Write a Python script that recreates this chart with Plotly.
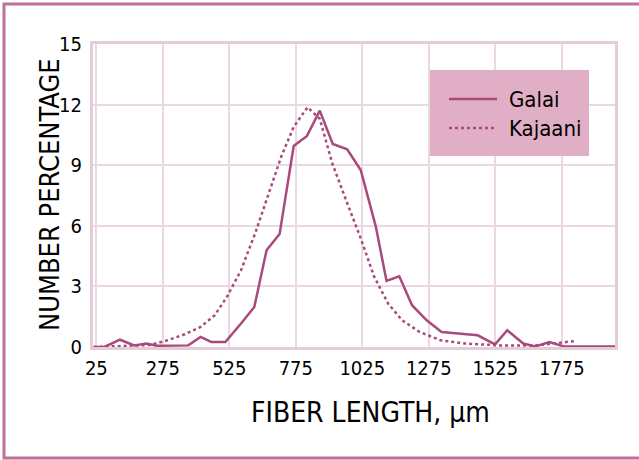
import plotly.graph_objects as go

# ---- data ----
galai_x = [15, 55, 114, 167, 213, 253, 371, 417, 457, 510, 569, 619, 665, 714, 767, 817, 865,
           914, 968, 1019, 1076, 1116, 1164, 1212, 1267, 1323, 1459, 1524, 1570, 1630, 1676,
           1729, 1782, 1975]
galai_y = [0.0, 0.0, 0.36, 0.08, 0.17, 0.06, 0.08, 0.5, 0.25, 0.25, 1.16, 1.98, 4.79, 5.59,
           9.95, 10.45, 11.7, 10.05, 9.79, 8.76, 5.95, 3.27, 3.5, 2.07, 1.32, 0.74, 0.58, 0.13,
           0.83, 0.17, 0.03, 0.25, 0.03, 0.03]

kajaani_x = [15, 94, 160, 226, 292, 358, 417, 470, 516, 569, 622, 674, 720, 767, 819, 865,
             912, 964, 1017, 1070, 1122, 1175, 1241, 1320, 1412, 1544, 1676, 1742, 1827]
kajaani_y = [0.0, 0.03, 0.04, 0.1, 0.33, 0.63, 0.99, 1.57, 2.48, 3.8, 5.62, 7.6, 9.42, 10.9,
             11.87, 11.3, 9.09, 7.27, 5.45, 3.47, 2.15, 1.32, 0.74, 0.33, 0.17, 0.08, 0.08,
             0.17, 0.3]

series_names = ["Galai", "Kajaani"]
x_ticks = [25, 275, 525, 775, 1025, 1275, 1525, 1775]
y_ticks = [0, 3, 6, 9, 12, 15]

LINE = "#a84a7c"
GRID = "#ead8e2"
FONT = "DejaVu Sans Condensed, Liberation Sans Narrow, DejaVu Sans, sans-serif"

fig = go.Figure()
fig.add_trace(go.Scatter(x=galai_x, y=galai_y, mode="lines", name=series_names[0],
                         line=dict(color=LINE, width=2.5), showlegend=False))
fig.add_trace(go.Scatter(x=kajaani_x, y=kajaani_y, mode="lines", name=series_names[1],
                         line=dict(color=LINE, width=2.5, dash="dot"), showlegend=False))

fig.update_layout(
    width=639, height=460,
    margin=dict(l=93, r=24, t=44, b=113),
    paper_bgcolor="white", plot_bgcolor="white",
    font=dict(family=FONT, color="black"),
    xaxis=dict(range=[12.5, 1975], tickvals=x_ticks, ticktext=[str(v) for v in x_ticks],
               showgrid=True, gridcolor=GRID, gridwidth=1.5, zeroline=False,
               showline=True, linecolor="#e3cdd9", linewidth=3, mirror=True,
               ticks="", tickfont=dict(size=20, family=FONT), ticklabelstandoff=1),
    yaxis=dict(range=[0, 15], tickvals=y_ticks, showgrid=True, gridcolor=GRID, gridwidth=1.5,
               zeroline=False, showline=True, linecolor="#e3cdd9", linewidth=3, mirror=True,
               ticks="", tickfont=dict(size=20, family=FONT), ticklabelstandoff=4),
)

# axis titles
fig.add_annotation(text="FIBER LENGTH, \u00b5m", xref="paper", yref="paper",
                   x=(370 - 93) / 522, y=(347 - 412) / 303, showarrow=False,
                   xanchor="center", yanchor="middle",
                   font=dict(size=28, family=FONT, color="black"))
fig.add_annotation(text="NUMBER PERCENTAGE", xref="paper", yref="paper",
                   x=(49 - 93) / 522, y=(347 - 195) / 303, showarrow=False, textangle=-90,
                   xanchor="center", yanchor="middle",
                   font=dict(size=27, family=FONT, color="black"))

# legend (drawn manually)
def px(xp):
    return (xp - 93) / 522

def py(yp):
    return (347 - yp) / 303

fig.add_shape(type="rect", xref="paper", yref="paper", x0=px(430), x1=px(589),
              y0=py(156), y1=py(70), fillcolor="#e0afc5", line=dict(width=0), layer="above")
for i, (name, dash) in enumerate(zip(series_names, ["solid", "dot"])):
    yy = 99 + 29 * i
    fig.add_shape(type="line", xref="paper", yref="paper", x0=px(449), x1=px(497),
                  y0=py(yy), y1=py(yy), line=dict(color=LINE, width=2.5, dash=dash),
                  layer="above")
    fig.add_annotation(text=name, xref="paper", yref="paper", x=px(507), y=py(yy),
                       xanchor="left", yanchor="middle", showarrow=False,
                       font=dict(size=22, family=FONT, color="black"))

# outer frame
fig.add_shape(type="rect", xref="paper", yref="paper", x0=px(4), x1=px(660),
              y0=py(458), y1=py(4), line=dict(color="#c0709a", width=3),
              fillcolor="rgba(0,0,0,0)", layer="below")

fig.write_html("out.html", config={"displayModeBar": False},
               post_script="document.body.style.margin='0';")
